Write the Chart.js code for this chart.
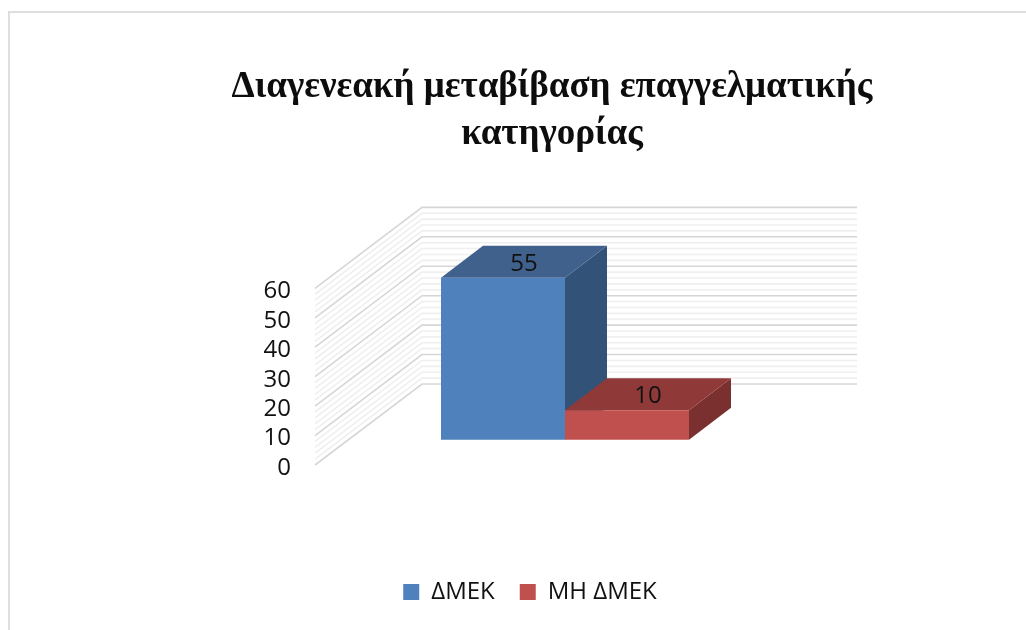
<!DOCTYPE html>
<html lang="el">
<head>
<meta charset="utf-8">
<title>Διαγενεακή μεταβίβαση επαγγελματικής κατηγορίας</title>
<style>html,body{margin:0;padding:0;background:#fff}canvas{display:block}</style>
<script src="https://cdn.jsdelivr.net/npm/chart.js@4"></script>
</head>
<body>
<canvas id="c" width="1026" height="630"></canvas>
<script>
const titleLines = ['Διαγενεακή μεταβίβαση επαγγελματικής', 'κατηγορίας'];
const categories = [''];
const seriesNames = ['ΔΜΕΚ', 'ΜΗ ΔΜΕΚ'];
const dmekValues = [55];
const mhDmekValues = [10];
const tickValues = [0, 10, 20, 30, 40, 50, 60];
const wallStep = 2;

const colors = {
  front: ['#4F81BD', '#C0504D'],
  top: ['#3F618C', '#8F3A38'],
  side: ['#325278', '#7A302E']
};
const wallDepth = { dx: 107, dy: -81 };
const wallRight = 857;
const barDepth = { dx: 42, dy: -32 };

function poly(ctx, pts, fill) {
  ctx.beginPath();
  pts.forEach((p, i) => i ? ctx.lineTo(p[0], p[1]) : ctx.moveTo(p[0], p[1]));
  ctx.closePath();
  ctx.fillStyle = fill;
  ctx.fill();
}

const scene3d = {
  id: 'scene3d',
  afterLayout(chart) {
    // the legend sits left of the title's centre in the original
    chart.legend.left -= 22;
    chart.legend.right -= 22;
    // the title is wider than the plot: widen its box around the same centre
    chart.titleBlock.left -= 200;
    chart.titleBlock.right += 200;
    // tick labels are clipped to the scale box, so widen it to the left
    chart.scales.y.left -= 80;
  },
  beforeDatasetsDraw(chart) {
    const ctx = chart.ctx, yS = chart.scales.y, left = chart.chartArea.left;
    ctx.save();
    // outer frame
    ctx.strokeStyle = '#dedede';
    ctx.lineWidth = 2;
    ctx.beginPath();
    ctx.moveTo(9, 630); ctx.lineTo(9, 12); ctx.lineTo(1026, 12);
    ctx.stroke();
    // side and back walls
    for (let v = 0; v <= tickValues[tickValues.length - 1]; v += wallStep) {
      const major = tickValues.includes(v);
      const p = yS.getPixelForValue(v);
      ctx.strokeStyle = major ? '#d6d6d6' : '#efefef';
      ctx.lineWidth = 1.6;
      ctx.beginPath();
      ctx.moveTo(left, p);
      ctx.lineTo(left + wallDepth.dx, p + wallDepth.dy);
      ctx.lineTo(wallRight, p + wallDepth.dy);
      ctx.stroke();
    }
    // bar top and side faces
    chart.data.datasets.forEach((ds, i) => {
      const b = chart.getDatasetMeta(i).data[0];
      const x0 = b.x - b.width / 2, x1 = b.x + b.width / 2;
      const dx = barDepth.dx, dy = barDepth.dy;
      poly(ctx, [[x1, b.y], [x1 + dx, b.y + dy], [x1 + dx, b.base + dy], [x1, b.base]], colors.side[i]);
      poly(ctx, [[x0, b.y], [x0 + dx, b.y + dy], [x1 + dx, b.y + dy], [x1, b.y]], colors.top[i]);
    });
    ctx.restore();
  },
  afterDatasetsDraw(chart) {
    const ctx = chart.ctx;
    ctx.save();
    ctx.fillStyle = '#111';
    ctx.font = '24px "Open Sans"';
    ctx.textAlign = 'center';
    ctx.textBaseline = 'middle';
    chart.data.datasets.forEach((ds, i) => {
      const b = chart.getDatasetMeta(i).data[0];
      ctx.fillText(String(ds.data[0]), b.x + barDepth.dx / 2, b.y + barDepth.dy / 2 + 2);
    });
    ctx.restore();
  }
};

new Chart(document.getElementById('c'), {
  type: 'bar',
  data: {
    labels: categories,
    datasets: [
      { label: seriesNames[0], data: dmekValues, backgroundColor: colors.front[0], borderWidth: 0, yAxisID: 'y2' },
      { label: seriesNames[1], data: mhDmekValues, backgroundColor: colors.front[1], borderWidth: 0, yAxisID: 'y2' }
    ]
  },
  options: {
    responsive: false,
    animation: false,
    layout: { padding: { left: 289, right: 211, top: 64, bottom: 16 } },
    categoryPercentage: 0.496,
    barPercentage: 1,
    plugins: {
      tooltip: { enabled: false },
      title: {
        display: true,
        text: titleLines,
        color: '#0d0d0d',
        font: { family: '"Liberation Serif"', size: 37, weight: 'bold', lineHeight: 1.27 },
        padding: { top: 0, bottom: 50 }
      },
      legend: {
        position: 'bottom',
        labels: {
          boxWidth: 16,
          boxHeight: 16,
          padding: 25,
          color: '#111',
          font: { family: '"Open Sans"', size: 24 }
        }
      }
    },
    scales: {
      x: {
        grid: { display: false },
        border: { display: false },
        ticks: { display: false },
        afterFit(s) { s.height = 90; }
      },
      y: {
        min: 0,
        max: 87.3,
        grid: { display: false },
        border: { display: false },
        ticks: {
          padding: 16,
          labelOffset: 3,
          color: '#111',
          font: { family: '"Open Sans"', size: 24 }
        },
        afterBuildTicks(s) { s.ticks = tickValues.map(v => ({ value: v })); },
        afterFit(s) { s.width = 26; }
      },
      y2: {
        display: false,
        min: -8.6,
        max: 78.7
      }
    }
  },
  plugins: [scene3d]
});
</script>
</body>
</html>
